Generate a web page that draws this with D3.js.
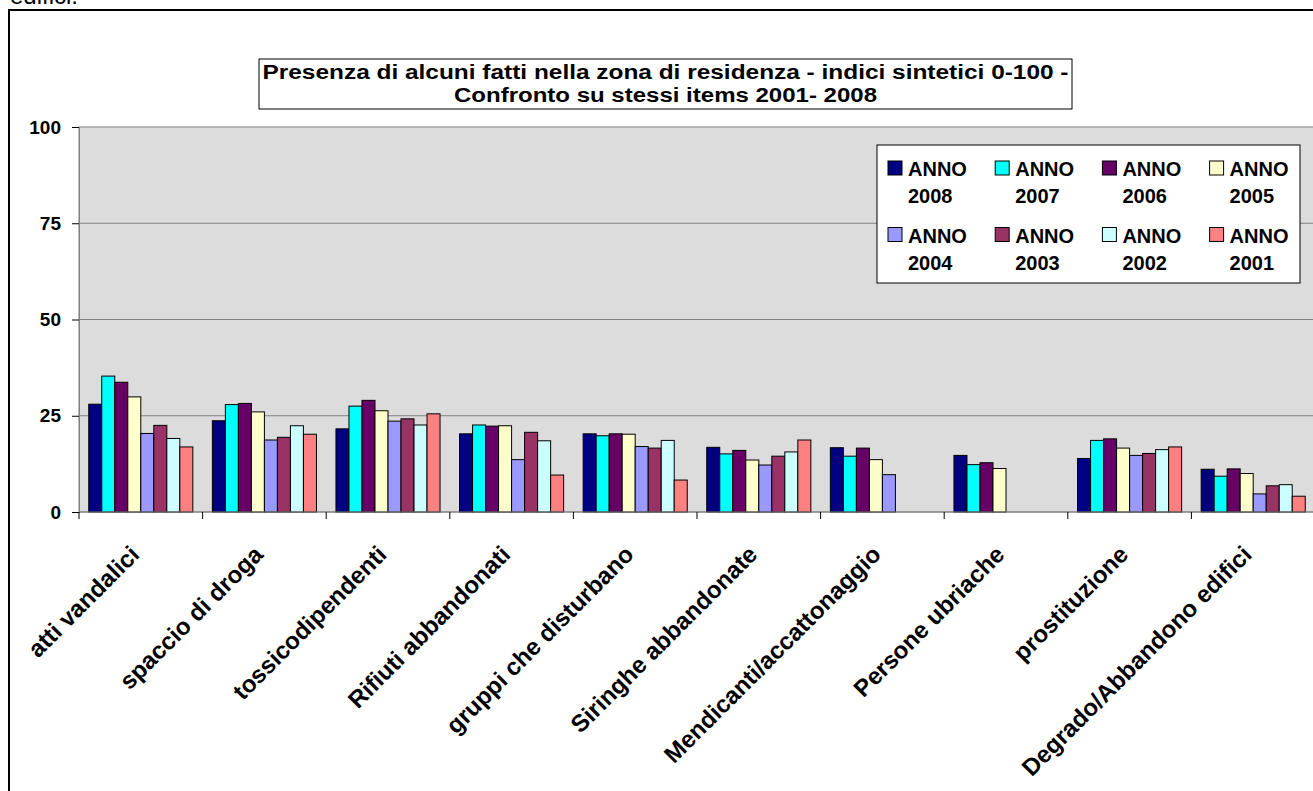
<!DOCTYPE html>
<html><head><meta charset="utf-8">
<script src="https://cdn.jsdelivr.net/npm/d3@7/dist/d3.min.js"></script>
<style>
html,body{margin:0;padding:0;background:#fff;overflow:hidden}
svg{display:block;font-family:Arial,"Liberation Sans",sans-serif}
</style></head>
<body>
<svg id="c" width="1313" height="791"></svg>
<script>
const categories = ["atti vandalici","spaccio di droga","tossicodipendenti","Rifiuti abbandonati","gruppi che disturbano","Siringhe abbandonate","Mendicanti/accattonaggio","Persone ubriache","prostituzione","Degrado/Abbandono edifici"];
const seriesNames = ["ANNO 2008","ANNO 2007","ANNO 2006","ANNO 2005","ANNO 2004","ANNO 2003","ANNO 2002","ANNO 2001"];
const seriesColors = ["#000080","#00FFFF","#660066","#FFFFCC","#9999FF","#993366","#CCFFFF","#FF8080"];
const anno2008 = [28.0,23.7,21.6,20.3,20.3,16.8,16.7,14.7,13.9,11.1];
const anno2007 = [35.3,27.9,27.5,22.6,19.8,15.1,14.5,12.3,18.6,9.3];
const anno2006 = [33.7,28.2,29.0,22.3,20.3,16.0,16.6,12.8,19.0,11.2];
const anno2005 = [29.9,26.0,26.3,22.4,20.2,13.5,13.6,11.3,16.6,10.0];
const anno2004 = [20.4,18.7,23.6,13.6,17.0,12.2,9.7,null,14.7,4.7];
const anno2003 = [22.5,19.4,24.2,20.7,16.6,14.5,null,null,15.2,6.8];
const anno2002 = [19.1,22.4,22.6,18.5,18.6,15.6,null,null,16.2,7.1];
const anno2001 = [16.9,20.2,25.5,9.6,8.3,18.7,null,null,16.9,4.1];
const yTicks = [0,25,50,75,100];
const titleLines = ["Presenza di alcuni fatti nella zona di residenza - indici sintetici 0-100 -","Confronto su stessi items 2001- 2008"];

(function(){
const seriesValues = [anno2008,anno2007,anno2006,anno2005,anno2004,anno2003,anno2002,anno2001];
const svg = d3.select("#c");

svg.append("text").attr("x",10).attr("y",4).attr("font-size",24).text("edifici.");

svg.append("rect").attr("x",9).attr("y",10).attr("width",1330).attr("height",800)
  .attr("fill","#fff").attr("stroke","#000").attr("stroke-width",2);

const pL = 79, pR = 79 + 10*123.6, pT = 127, pB = 512;
const x0 = d3.scaleBand().domain(categories).range([pL,pR]).paddingInner(0).paddingOuter(0);
const x1 = d3.scaleBand().domain(seriesNames).range([0,x0.bandwidth()]).paddingInner(0).paddingOuter(0.75);
const y = d3.scaleLinear().domain([0,100]).range([pB,pT]);

svg.append("rect").attr("x",pL).attr("y",pT).attr("width",pR-pL).attr("height",pB-pT)
  .attr("fill","#DCDCDC").attr("stroke","#808080").attr("stroke-width",1);

svg.append("g").selectAll("line").data(yTicks.filter(d=>d>0 && d<100)).join("line")
  .attr("x1",pL).attr("x2",pR).attr("y1",d=>y(d)).attr("y2",d=>y(d))
  .attr("stroke","#808080").attr("stroke-width",1);

const yAxis = d3.axisLeft(y).tickValues(yTicks).tickSize(7).tickPadding(11).tickFormat(d3.format("d"));
const gy = svg.append("g").attr("transform",`translate(${pL},0)`).call(yAxis);
gy.select(".domain").attr("stroke","#808080");
gy.selectAll(".tick line").attr("stroke","#000");
gy.selectAll(".tick text").attr("font-size",19).attr("font-weight","bold").attr("fill","#000")
  .attr("font-family",'Arial,"Liberation Sans",sans-serif');

const groups = svg.append("g").selectAll("g").data(categories).join("g")
  .attr("transform",d=>`translate(${x0(d)},0)`);
groups.selectAll("rect").data((c,i)=>seriesNames.map((s,j)=>({s,v:seriesValues[j][i],col:seriesColors[j]})).filter(d=>d.v!=null))
  .join("rect")
  .attr("x",d=>x1(d.s)).attr("width",x1.bandwidth())
  .attr("y",d=>y(d.v)).attr("height",d=>pB-y(d.v))
  .attr("fill",d=>d.col).attr("stroke","#000").attr("stroke-width",1);

svg.append("line").attr("x1",pL).attr("x2",pR).attr("y1",pB).attr("y2",pB).attr("stroke","#808080");
svg.append("g").selectAll("line").data(d3.range(categories.length+1)).join("line")
  .attr("x1",i=>pL+i*x0.step()).attr("x2",i=>pL+i*x0.step())
  .attr("y1",pB).attr("y2",pB+7).attr("stroke","#000");
svg.append("g").selectAll("text").data(categories).join("text")
  .attr("transform",d=>`translate(${x0(d)+x0.bandwidth()/2},${pB+44}) rotate(-45)`)
  .attr("text-anchor","end").attr("font-size",24).attr("font-weight","bold").text(d=>d);

const tb = svg.append("g");
tb.append("rect").attr("x",259).attr("y",59).attr("width",813).attr("height",50)
  .attr("fill","#fff").attr("stroke","#000").attr("stroke-width",1);
const tLen = [806, 423];
tb.selectAll("text").data(titleLines).join("text")
  .attr("x",665.5).attr("y",(d,i)=>79+i*23).attr("text-anchor","middle")
  .attr("textLength",(d,i)=>tLen[i]).attr("lengthAdjust","spacingAndGlyphs")
  .attr("font-size",20).attr("font-weight","bold").text(d=>d);

const lg = svg.append("g");
lg.append("rect").attr("x",877).attr("y",145).attr("width",423).attr("height",138)
  .attr("fill","#fff").attr("stroke","#000").attr("stroke-width",1);
const items = lg.selectAll("g").data(seriesNames).join("g")
  .attr("transform",(d,i)=>`translate(${888+(i%4)*107.2},${161+Math.floor(i/4)*66.5})`);
items.append("rect").attr("width",14).attr("height",14).attr("fill",(d,i)=>seriesColors[i]).attr("stroke","#000");
items.append("text").attr("x",20).attr("y",15).attr("font-size",20).attr("font-weight","bold").text(d=>d.split(" ")[0]);
items.append("text").attr("x",20).attr("y",42).attr("font-size",20).attr("font-weight","bold").text(d=>d.split(" ")[1]);
})();
</script>
</body></html>
